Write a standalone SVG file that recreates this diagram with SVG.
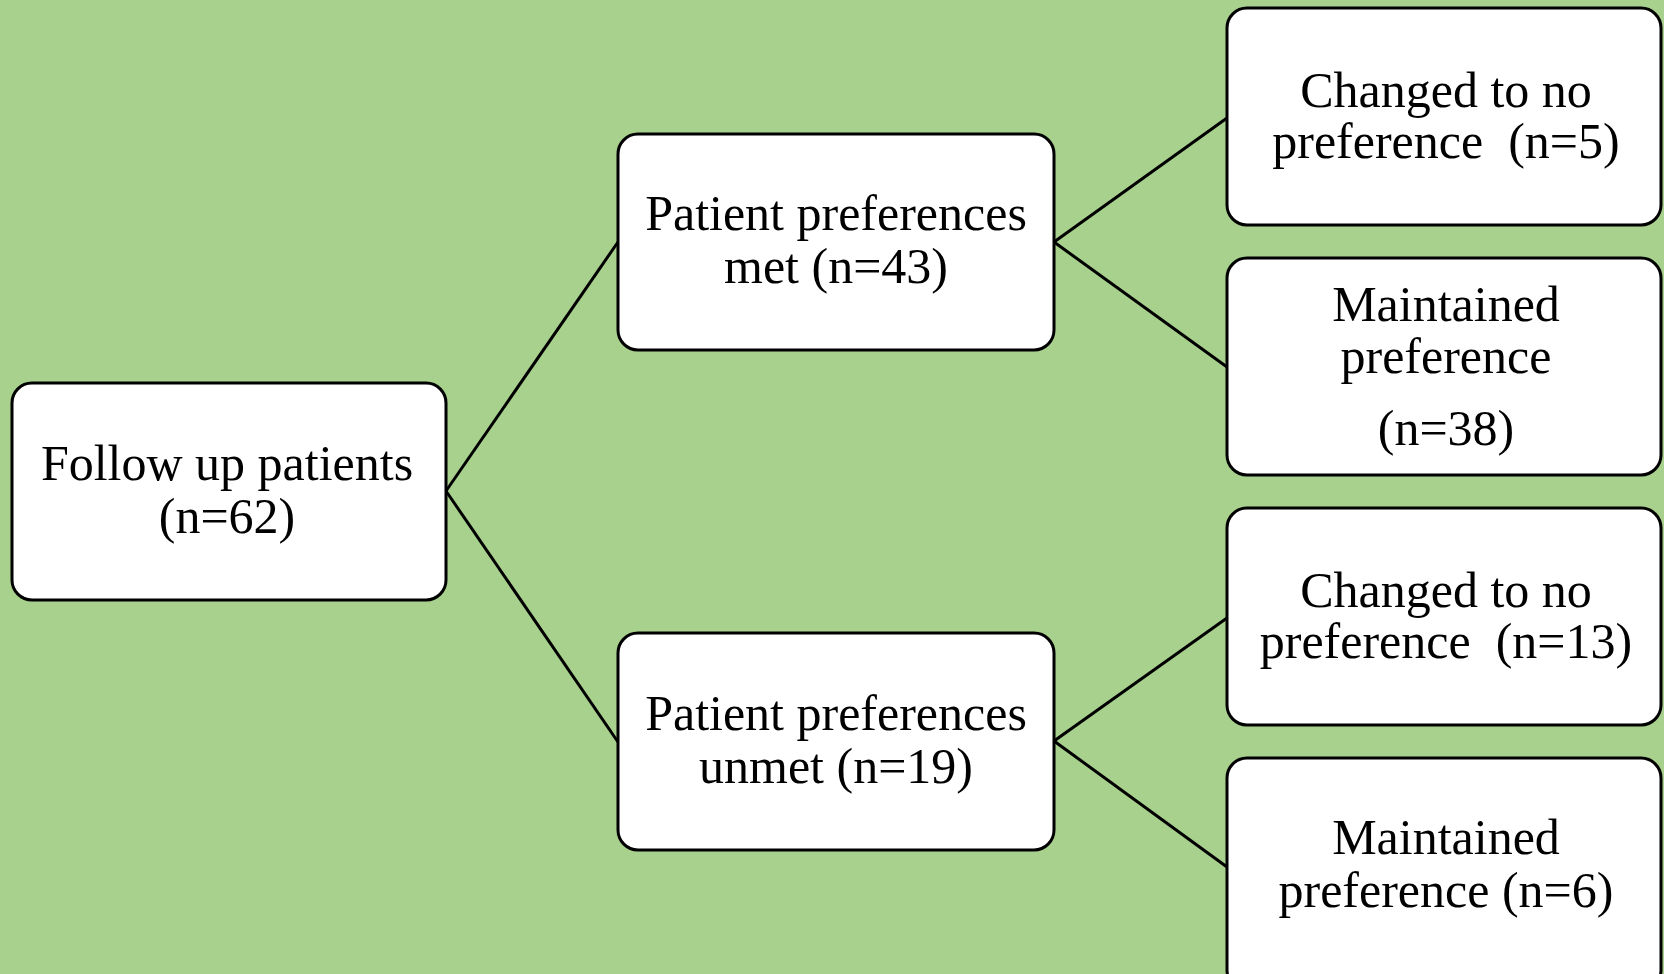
<svg xmlns="http://www.w3.org/2000/svg" width="1664" height="974" viewBox="0 0 1664 974">
<style>
.box{fill:#ffffff;stroke:#000000;stroke-width:3}
.t{font-family:"Liberation Serif","Times New Roman",serif;fill:#000000;text-anchor:middle;white-space:pre;font-size:50px}
.c{stroke:#000000;stroke-width:3;fill:none}
</style>
<rect x="0" y="0" width="1664" height="974" fill="#a9d18e"/>
<g id="connectors">
<line class="c" x1="446" y1="491" x2="618" y2="242"/>
<line class="c" x1="446" y1="491" x2="618" y2="742"/>
<line class="c" x1="1054" y1="242" x2="1227" y2="118"/>
<line class="c" x1="1054" y1="242" x2="1227" y2="367"/>
<line class="c" x1="1054" y1="741" x2="1227" y2="618"/>
<line class="c" x1="1054" y1="741" x2="1227" y2="867"/>
</g>
<g id="follow-up">
<rect class="box" x="12" y="383" width="434" height="217" rx="20"/>
<text class="t" x="227" y="480">Follow up patients</text>
<text class="t" x="227" y="533">(n=62)</text>
</g>
<g id="met">
<rect class="box" x="618" y="134" width="436" height="216" rx="20"/>
<text class="t" x="836" y="230">Patient preferences</text>
<text class="t" x="836" y="283">met (n=43)</text>
</g>
<g id="unmet">
<rect class="box" x="618" y="633" width="436" height="217" rx="20"/>
<text class="t" x="836" y="730">Patient preferences</text>
<text class="t" x="836" y="783">unmet (n=19)</text>
</g>
<g id="met-changed">
<rect class="box" x="1227" y="8" width="434" height="217" rx="20"/>
<text class="t" x="1446" y="107">Changed to no</text>
<text class="t" x="1446" y="158">preference  (n=5)</text>
</g>
<g id="met-maintained">
<rect class="box" x="1227" y="258" width="434" height="217" rx="20"/>
<text class="t" x="1446" y="321">Maintained</text>
<text class="t" x="1446" y="373">preference</text>
<text class="t" x="1446" y="445">(n=38)</text>
</g>
<g id="unmet-changed">
<rect class="box" x="1227" y="508" width="434" height="217" rx="20"/>
<text class="t" x="1446" y="607">Changed to no</text>
<text class="t" x="1446" y="658">preference  (n=13)</text>
</g>
<g id="unmet-maintained">
<rect class="box" x="1227" y="758" width="434" height="232" rx="20"/>
<text class="t" x="1446" y="854">Maintained</text>
<text class="t" x="1446" y="907">preference (n=6)</text>
</g>
</svg>
